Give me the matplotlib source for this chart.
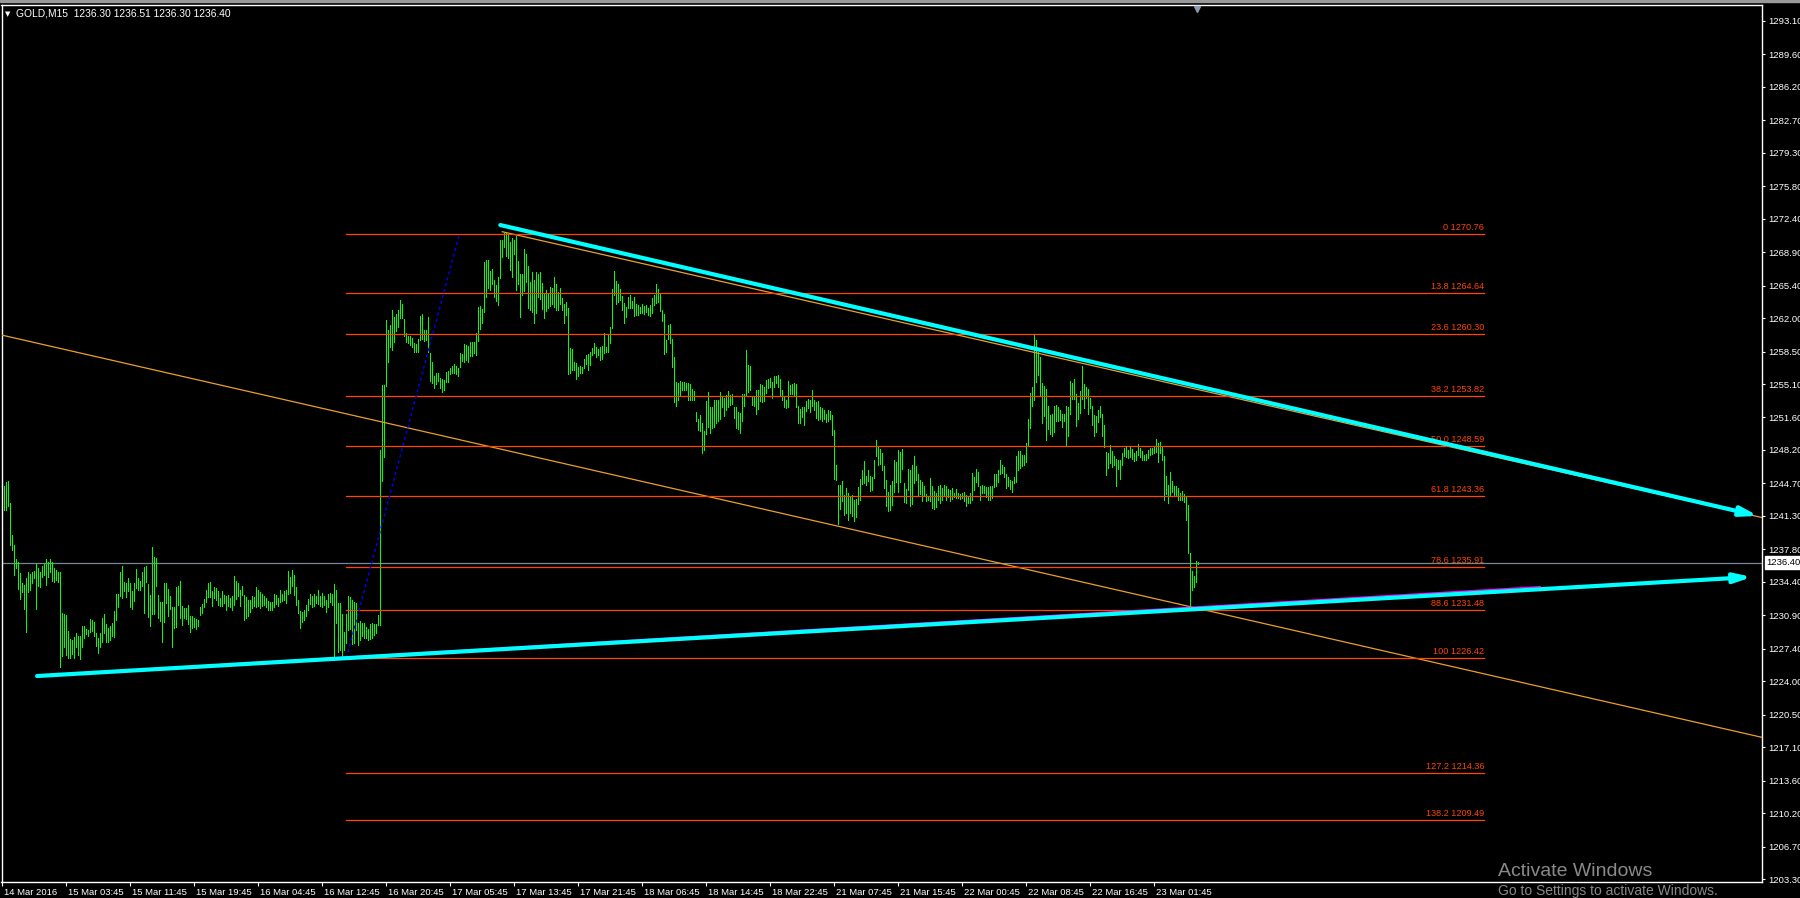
import matplotlib
matplotlib.use("Agg")
import matplotlib.pyplot as plt
import matplotlib.transforms as mtransforms
from matplotlib.patches import FancyArrowPatch, Rectangle
import numpy as np

plt.rcParams['font.family'] = ['Liberation Sans', 'DejaVu Sans']

# ---------------- data ----------------
symbol_text = "GOLD,M15"
last_ohlc = ["1236.30", "1236.51", "1236.30", "1236.40"]
current_price = 1236.40

bar_high = [
    1244.5, 1244.4, 1244.8, 1245.0, 1242.6, 1239.3, 1238.3, 1236.8, 1236.5, 1235.3,
    1234.3, 1234.1, 1234.8, 1235.4, 1235.2, 1235.4, 1235.5, 1236.3, 1235.8, 1235.4,
    1236.1, 1236.3, 1236.8, 1236.5, 1236.8, 1236.5, 1235.9, 1235.6, 1235.4, 1235.4,
    1231.1, 1231.0, 1230.9, 1229.3, 1228.4, 1228.3, 1228.6, 1229.0, 1228.7, 1228.7,
    1229.8, 1229.8, 1229.5, 1229.4, 1230.5, 1230.4, 1230.2, 1229.0, 1228.5, 1229.1,
    1230.6, 1231.0, 1230.0, 1229.6, 1229.8, 1230.1, 1231.4, 1233.1, 1233.1, 1235.4,
    1236.1, 1234.4, 1234.3, 1234.8, 1234.3, 1233.4, 1234.3, 1235.7, 1234.8, 1234.5,
    1235.4, 1236.0, 1236.1, 1234.2, 1233.0, 1238.0, 1237.0, 1236.9, 1233.0, 1232.3,
    1232.3, 1234.3, 1234.3, 1233.7, 1232.9, 1231.8, 1231.8, 1233.9, 1234.0, 1234.5,
    1231.9, 1231.7, 1231.7, 1232.0, 1230.8, 1230.8, 1230.6, 1230.5, 1230.4, 1231.8,
    1232.1, 1232.6, 1233.5, 1234.3, 1234.4, 1233.4, 1233.9, 1233.8, 1233.4, 1232.7,
    1233.4, 1233.0, 1232.9, 1233.0, 1232.7, 1232.9, 1235.0, 1234.5, 1234.3, 1233.6,
    1234.0, 1233.0, 1232.8, 1232.5, 1232.5, 1232.9, 1232.8, 1233.9, 1233.6, 1233.3,
    1233.1, 1232.9, 1232.7, 1232.4, 1232.3, 1232.3, 1233.1, 1233.0, 1232.7, 1233.6,
    1233.1, 1233.4, 1233.6, 1235.5, 1234.9, 1235.6, 1235.1, 1233.9, 1232.5, 1231.4,
    1231.3, 1231.5, 1232.0, 1232.6, 1233.1, 1232.9, 1233.1, 1232.9, 1233.5, 1232.9,
    1233.2, 1232.9, 1232.5, 1233.1, 1233.2, 1233.1, 1234.2, 1233.6, 1232.2, 1232.2,
    1231.0, 1229.2, 1231.0, 1232.9, 1232.8, 1232.5, 1232.3, 1232.2, 1230.1, 1230.3,
    1230.1, 1230.1, 1229.7, 1229.5, 1230.0, 1230.1, 1230.0, 1230.0, 1230.9, 1248.2,
    1255.0, 1255.0, 1261.8, 1260.7, 1261.3, 1262.8, 1262.1, 1262.4, 1262.8, 1263.9,
    1263.5, 1261.9, 1260.4, 1260.1, 1260.1, 1259.9, 1259.4, 1259.3, 1259.8, 1262.2,
    1262.4, 1260.8, 1260.7, 1262.1, 1258.3, 1257.4, 1255.9, 1256.2, 1256.3, 1255.7,
    1255.6, 1255.5, 1256.4, 1256.5, 1256.8, 1257.0, 1257.2, 1257.0, 1256.8, 1258.3,
    1258.2, 1259.3, 1259.2, 1259.1, 1259.5, 1259.5, 1259.5, 1260.4, 1263.2, 1263.3,
    1262.9, 1267.9, 1268.1, 1268.1, 1266.9, 1267.1, 1266.0, 1265.5, 1266.3, 1270.2,
    1270.2, 1270.9, 1270.9, 1270.7, 1270.0, 1270.4, 1270.2, 1270.6, 1268.0, 1266.6,
    1266.6, 1269.2, 1268.7, 1267.4, 1265.8, 1266.8, 1266.0, 1266.8, 1266.6, 1266.8,
    1265.7, 1264.6, 1264.9, 1264.5, 1265.2, 1265.1, 1266.3, 1265.6, 1264.7, 1265.1,
    1264.1, 1263.5, 1263.7, 1263.1, 1258.9, 1258.8, 1257.4, 1257.3, 1256.9, 1257.0,
    1256.9, 1257.7, 1258.1, 1258.2, 1258.5, 1258.9, 1259.4, 1259.0, 1258.8, 1259.0,
    1259.1, 1260.4, 1259.0, 1260.2, 1261.1, 1265.0, 1266.9, 1265.9, 1265.6, 1265.0,
    1264.3, 1263.6, 1263.2, 1264.2, 1264.4, 1263.8, 1264.2, 1263.5, 1263.4, 1263.2,
    1263.5, 1263.3, 1263.4, 1263.1, 1263.4, 1264.1, 1264.4, 1265.6, 1265.0, 1264.6,
    1262.8, 1262.4, 1259.7, 1261.3, 1261.4, 1259.8, 1257.9, 1255.3, 1255.2, 1255.4,
    1255.3, 1255.3, 1255.2, 1255.2, 1255.1, 1254.6, 1254.4, 1252.2, 1251.4, 1251.9,
    1251.0, 1250.2, 1253.3, 1254.3, 1252.7, 1252.7, 1253.4, 1253.4, 1253.4, 1254.3,
    1253.8, 1253.6, 1253.9, 1254.4, 1254.0, 1254.1, 1252.7, 1252.7, 1252.2, 1252.1,
    1254.1, 1254.1, 1258.7, 1257.1, 1257.0, 1253.8, 1253.8, 1254.5, 1254.5, 1255.1,
    1255.0, 1254.8, 1255.5, 1255.6, 1255.7, 1255.3, 1255.9, 1255.9, 1256.0, 1255.6,
    1254.5, 1253.8, 1253.4, 1255.4, 1255.0, 1255.1, 1255.2, 1255.1, 1252.8, 1252.5,
    1252.7, 1252.7, 1253.3, 1253.5, 1253.4, 1254.5, 1253.4, 1253.2, 1253.3, 1252.7,
    1252.6, 1252.4, 1252.0, 1252.4, 1252.3, 1251.9, 1250.3, 1246.6, 1244.5, 1244.5,
    1245.0, 1243.5, 1244.2, 1243.7, 1243.3, 1243.5, 1243.0, 1243.1, 1244.3, 1245.2,
    1246.1, 1247.0, 1245.5, 1246.1, 1245.5, 1245.4, 1247.2, 1249.2, 1248.6, 1248.3,
    1247.9, 1246.5, 1245.1, 1243.8, 1244.5, 1245.0, 1247.1, 1246.9, 1248.2, 1248.0,
    1248.3, 1244.7, 1244.1, 1246.2, 1246.1, 1246.6, 1247.6, 1246.5, 1245.7, 1245.1,
    1244.9, 1244.4, 1243.6, 1243.4, 1245.3, 1244.4, 1243.9, 1243.7, 1244.4, 1244.5,
    1244.2, 1244.5, 1244.4, 1244.1, 1244.0, 1244.2, 1243.7, 1244.1, 1243.7, 1243.6,
    1243.7, 1243.8, 1243.5, 1243.4, 1243.7, 1245.8, 1245.4, 1246.2, 1245.9, 1244.4,
    1244.5, 1244.4, 1244.3, 1244.3, 1244.4, 1244.4, 1245.7, 1245.7, 1246.1, 1247.1,
    1246.6, 1246.4, 1245.7, 1245.4, 1245.1, 1245.0, 1245.4, 1247.6, 1248.1, 1248.1,
    1247.7, 1247.7, 1248.9, 1251.4, 1254.2, 1254.8, 1260.2, 1259.7, 1258.4, 1257.9,
    1255.2, 1254.9, 1254.6, 1252.8, 1251.9, 1252.0, 1252.8, 1252.9, 1252.7, 1252.4,
    1252.0, 1252.0, 1252.8, 1252.7, 1255.4, 1255.2, 1255.6, 1254.1, 1253.1, 1254.4,
    1257.0, 1255.1, 1254.8, 1254.6, 1253.6, 1252.8, 1251.9, 1251.8, 1252.4, 1252.8,
    1252.0, 1250.8, 1248.0, 1247.9, 1248.7, 1248.1, 1247.6, 1247.3, 1247.1, 1247.2,
    1247.9, 1248.4, 1248.5, 1248.2, 1248.5, 1248.3, 1247.9, 1248.1, 1248.8, 1248.4,
    1248.1, 1247.7, 1247.8, 1248.2, 1248.4, 1248.4, 1248.5, 1249.3, 1248.9, 1249.0,
    1248.5, 1247.6, 1245.5, 1244.5, 1245.9, 1245.0, 1244.4, 1244.4, 1244.2, 1243.7,
    1243.9, 1243.6, 1243.4, 1242.4, 1237.4, 1235.5, 1235.0, 1236.6, 1236.51,
]

bar_low = [
    1242.8, 1241.9, 1241.9, 1242.3, 1238.3, 1237.7, 1235.1, 1235.8, 1233.7, 1232.6,
    1233.3, 1231.6, 1229.2, 1233.3, 1233.6, 1234.3, 1234.8, 1231.6, 1234.0, 1233.9,
    1234.9, 1235.1, 1234.1, 1234.9, 1235.4, 1234.5, 1234.4, 1234.6, 1234.4, 1225.5,
    1226.6, 1227.6, 1226.7, 1226.4, 1226.4, 1226.9, 1226.4, 1227.6, 1226.7, 1226.3,
    1227.6, 1228.5, 1228.9, 1228.7, 1229.2, 1229.3, 1228.7, 1227.7, 1227.0, 1227.6,
    1228.1, 1229.0, 1228.1, 1228.1, 1228.3, 1228.7, 1228.6, 1230.4, 1231.8, 1232.9,
    1232.7, 1233.4, 1232.8, 1233.4, 1231.8, 1231.6, 1232.4, 1233.8, 1233.6, 1233.5,
    1234.0, 1231.1, 1234.4, 1230.7, 1229.8, 1231.0, 1231.0, 1234.0, 1230.6, 1230.3,
    1228.1, 1230.2, 1232.2, 1230.8, 1231.6, 1227.6, 1229.6, 1229.7, 1232.0, 1230.6,
    1229.9, 1230.6, 1230.5, 1230.0, 1229.2, 1229.6, 1229.7, 1229.5, 1229.8, 1230.9,
    1231.1, 1231.8, 1232.3, 1232.8, 1232.8, 1231.9, 1232.7, 1232.5, 1232.0, 1231.9,
    1231.9, 1232.2, 1231.5, 1231.9, 1231.8, 1231.5, 1232.0, 1232.6, 1232.9, 1231.9,
    1233.0, 1230.4, 1230.6, 1230.8, 1231.3, 1231.7, 1231.9, 1231.8, 1231.9, 1231.7,
    1231.9, 1232.0, 1231.8, 1231.5, 1231.5, 1231.5, 1231.8, 1232.1, 1231.9, 1232.3,
    1232.4, 1232.5, 1232.2, 1233.1, 1233.2, 1234.0, 1233.0, 1232.0, 1231.1, 1229.6,
    1230.2, 1230.4, 1230.8, 1231.5, 1232.1, 1231.8, 1231.9, 1232.2, 1232.1, 1231.9,
    1231.8, 1232.0, 1231.3, 1231.8, 1232.3, 1232.0, 1226.6, 1230.1, 1227.1, 1227.3,
    1226.5, 1227.3, 1228.0, 1229.4, 1229.5, 1227.9, 1228.0, 1229.4, 1227.8, 1228.3,
    1228.7, 1228.5, 1228.5, 1228.3, 1228.4, 1228.5, 1228.8, 1229.0, 1229.9, 1229.9,
    1245.0, 1247.5, 1254.9, 1257.4, 1259.0, 1258.7, 1259.5, 1260.6, 1261.1, 1262.0,
    1262.0, 1260.1, 1259.5, 1259.4, 1259.2, 1259.0, 1258.4, 1258.5, 1258.4, 1259.7,
    1259.8, 1259.6, 1259.7, 1258.5, 1255.4, 1255.2, 1254.7, 1255.1, 1255.4, 1254.7,
    1254.3, 1254.5, 1255.3, 1255.3, 1256.1, 1256.2, 1256.3, 1256.1, 1255.9, 1256.9,
    1257.5, 1257.4, 1257.6, 1257.4, 1258.0, 1258.0, 1258.3, 1258.1, 1259.6, 1260.9,
    1261.5, 1262.6, 1264.2, 1265.1, 1264.9, 1265.6, 1264.2, 1263.8, 1263.4, 1266.2,
    1268.4, 1269.4, 1268.5, 1268.3, 1267.0, 1266.3, 1268.7, 1264.9, 1265.6, 1262.1,
    1264.4, 1264.8, 1265.8, 1263.0, 1262.8, 1262.6, 1261.5, 1262.5, 1264.2, 1264.0,
    1262.9, 1262.0, 1262.7, 1263.0, 1263.3, 1263.5, 1263.2, 1262.8, 1262.8, 1263.5,
    1262.8, 1261.5, 1262.3, 1256.1, 1256.2, 1256.6, 1256.6, 1255.6, 1255.9, 1256.2,
    1256.3, 1256.8, 1257.2, 1256.6, 1257.1, 1258.1, 1258.3, 1257.9, 1258.1, 1257.6,
    1257.7, 1258.3, 1258.5, 1258.4, 1259.4, 1261.0, 1264.4, 1263.5, 1263.7, 1263.9,
    1262.8, 1261.5, 1262.1, 1263.0, 1263.1, 1263.1, 1262.2, 1262.3, 1262.3, 1262.5,
    1262.5, 1262.4, 1262.6, 1262.3, 1262.2, 1262.5, 1263.4, 1263.6, 1263.7, 1262.7,
    1261.7, 1258.2, 1258.4, 1259.8, 1259.4, 1256.9, 1253.2, 1252.8, 1253.4, 1254.0,
    1254.5, 1254.5, 1254.5, 1253.4, 1253.4, 1253.4, 1253.4, 1251.2, 1250.3, 1250.2,
    1247.9, 1248.2, 1249.9, 1250.6, 1250.0, 1250.5, 1250.6, 1251.0, 1251.2, 1251.4,
    1252.7, 1251.8, 1252.4, 1252.7, 1252.9, 1253.0, 1251.5, 1250.5, 1250.4, 1250.0,
    1251.2, 1252.8, 1253.8, 1254.3, 1254.5, 1252.9, 1252.8, 1252.0, 1252.5, 1253.3,
    1253.2, 1253.3, 1254.2, 1254.7, 1254.8, 1253.6, 1254.8, 1255.2, 1254.8, 1253.9,
    1253.4, 1252.7, 1252.6, 1252.7, 1254.1, 1254.1, 1253.8, 1252.7, 1251.0, 1251.0,
    1251.7, 1250.8, 1252.3, 1252.6, 1252.2, 1252.8, 1252.4, 1251.5, 1251.3, 1251.4,
    1251.2, 1251.4, 1251.1, 1251.2, 1251.4, 1249.8, 1245.2, 1245.1, 1240.5, 1242.0,
    1242.9, 1241.4, 1241.6, 1240.9, 1241.6, 1241.3, 1240.8, 1241.2, 1242.5, 1243.0,
    1244.6, 1244.7, 1244.5, 1245.0, 1243.9, 1244.0, 1245.3, 1247.6, 1246.6, 1246.7,
    1246.1, 1244.2, 1242.3, 1241.8, 1241.9, 1242.4, 1243.8, 1244.8, 1243.8, 1244.9,
    1246.2, 1242.8, 1242.6, 1244.0, 1242.3, 1242.5, 1244.7, 1245.1, 1243.5, 1243.6,
    1242.9, 1243.4, 1242.9, 1243.0, 1242.9, 1242.1, 1242.0, 1242.2, 1243.0, 1242.7,
    1243.0, 1243.4, 1243.0, 1243.3, 1242.9, 1243.1, 1243.3, 1243.2, 1243.2, 1243.1,
    1243.2, 1242.9, 1242.3, 1242.7, 1242.6, 1243.0, 1244.0, 1244.9, 1244.4, 1243.0,
    1243.7, 1243.7, 1243.3, 1243.0, 1243.0, 1243.2, 1244.3, 1244.4, 1244.9, 1245.7,
    1245.8, 1245.4, 1244.2, 1244.4, 1244.1, 1243.8, 1244.7, 1244.8, 1246.1, 1246.3,
    1246.5, 1246.6, 1246.9, 1248.7, 1250.5, 1252.8, 1253.4, 1255.3, 1256.0, 1253.8,
    1251.0, 1251.8, 1249.2, 1250.4, 1249.9, 1249.7, 1250.1, 1251.2, 1251.2, 1251.3,
    1250.6, 1251.2, 1248.6, 1249.7, 1252.0, 1253.5, 1253.5, 1250.7, 1251.4, 1252.1,
    1253.5, 1252.6, 1253.6, 1252.0, 1252.6, 1250.8, 1249.7, 1250.1, 1251.1, 1251.7,
    1249.7, 1248.5, 1245.6, 1246.3, 1246.8, 1246.4, 1246.6, 1244.4, 1246.2, 1245.2,
    1246.6, 1247.6, 1247.5, 1247.4, 1247.5, 1247.3, 1247.0, 1247.1, 1247.7, 1247.5,
    1247.1, 1247.1, 1247.2, 1247.4, 1247.7, 1247.8, 1247.9, 1248.0, 1246.9, 1247.9,
    1247.1, 1243.0, 1243.6, 1242.7, 1243.4, 1243.8, 1243.5, 1243.4, 1243.0, 1243.0,
    1243.0, 1242.8, 1240.9, 1237.4, 1231.7, 1233.5, 1233.9, 1234.4, 1236.30,
]

time_tick_bars = [0, 32, 64, 96, 128, 160, 192, 224, 256, 288, 320, 352, 384,
                  416, 448, 480, 512, 544, 576]
time_tick_labels = ["14 Mar 2016", "15 Mar 03:45", "15 Mar 11:45", "15 Mar 19:45",
                    "16 Mar 04:45", "16 Mar 12:45", "16 Mar 20:45", "17 Mar 05:45",
                    "17 Mar 13:45", "17 Mar 21:45", "18 Mar 06:45", "18 Mar 14:45",
                    "18 Mar 22:45", "21 Mar 07:45", "21 Mar 15:45", "22 Mar 00:45",
                    "22 Mar 08:45", "22 Mar 16:45", "23 Mar 01:45"]

price_ticks = [1293.10, 1289.60, 1286.20, 1282.70, 1279.30, 1275.80, 1272.40,
               1268.90, 1265.40, 1262.00, 1258.50, 1255.10, 1251.60, 1248.20,
               1244.70, 1241.30, 1237.80, 1234.40, 1230.90, 1227.40, 1224.00,
               1220.50, 1217.10, 1213.60, 1210.20, 1206.70, 1203.30]

fib_level_labels = ["0", "13.8", "23.6", "38.2", "50.0", "61.8", "78.6", "88.6",
                    "100", "127.2", "138.2"]
fib_prices = [1270.76, 1264.64, 1260.30, 1253.82, 1248.59, 1243.36, 1235.91,
              1231.48, 1226.42, 1214.36, 1209.49]
fib_span_bars = [172, 741]
fib_trend_bars = [172, 228.5]
fib_trend_prices = [1226.42, 1270.76]

channel_low_bars = [-1.15, 879.7]
channel_low_prices = [1260.26, 1218.14]
channel_up_bars = [250, 879.85]
channel_up_prices = [1271.03, 1241.13]

upper_arrow_bars = [249, 877.9]
upper_arrow_prices = [1271.73, 1241.30]
lower_arrow_bars = [17.4, 874.8]
lower_arrow_prices = [1224.55, 1234.91]
magenta_bars = [17.4, 769.0]
magenta_prices = [1224.62, 1233.90]

chart_shift_bar = 597.5

# ---------------- figure ----------------
W, H = 1800, 898
fig = plt.figure(figsize=(W / 100, H / 100), dpi=100)
fig.patch.set_facecolor("black")
ax = fig.add_axes([1.5 / W, (H - 882.3) / H, (1762 - 1.5) / W, (882.3 - 5) / H])
ax.set_facecolor("black")
ax.set_xlim(-0.4, 879.85)
ax.set_ylim(1202.97, 1294.75)
for s in ax.spines.values():
    s.set_color("white")
    s.set_linewidth(1.0)

idx = np.arange(len(bar_high))
ax.vlines(idx, bar_low, bar_high, colors="#00FF00", linewidth=0.6,
          antialiased=False, zorder=2)

# current price line
ax.axhline(current_price, color="#778899", linewidth=0.9, zorder=1)

# channel (orange)
orange = "#E9A12B"
ax.plot(channel_low_bars, channel_low_prices, color=orange, lw=0.9, zorder=3)
ax.plot(channel_up_bars, channel_up_prices, color=orange, lw=0.9, zorder=3)

# fibonacci
fib_color = "#FF4500"
for lab, p in zip(fib_level_labels, fib_prices):
    ax.plot(fib_span_bars, [p, p], color=fib_color, lw=0.9, zorder=3)
    ax.annotate(f"{lab} {p:.2f}", xy=(fib_span_bars[1], p), xytext=(0, 1.5),
                textcoords="offset points", ha="right", va="bottom",
                color=fib_color, fontsize=6.6, zorder=4)
ax.plot(fib_trend_bars, fib_trend_prices, color="#0000FF", lw=1.0,
        linestyle=(0, (2.2, 2.2)), zorder=3)

# magenta line under lower cyan
ax.plot(magenta_bars, magenta_prices, color="#FF00FF", lw=1.0, zorder=4)

# cyan arrows
for bx, py in ((upper_arrow_bars, upper_arrow_prices),
               (lower_arrow_bars, lower_arrow_prices)):
    arr = FancyArrowPatch((bx[0], py[0]), (bx[1], py[1]),
                          arrowstyle="-|>,head_length=1.0,head_width=0.28",
                          mutation_scale=10, color="#00FFFF", lw=3.0,
                          shrinkA=0, shrinkB=0, zorder=5)
    ax.add_patch(arr)

# axes ticks
ax.yaxis.tick_right()
ax.set_yticks(price_ticks)
ax.set_yticklabels([f"{v:.2f}" for v in price_ticks])
ax.tick_params(axis="y", direction="out", length=2.5, width=0.8, colors="white",
               labelsize=6.8, pad=2)
ax.set_xticks(time_tick_bars)
ax.set_xticklabels(time_tick_labels, ha="left")
ax.tick_params(axis="x", direction="out", length=3, width=0.8, colors="white",
               labelsize=6.8, pad=1)
off = mtransforms.ScaledTranslation(0.02, 0, fig.dpi_scale_trans)
for lab in ax.get_xticklabels():
    lab.set_transform(lab.get_transform() + off)

# current price box on the scale
bt = mtransforms.blended_transform_factory(ax.transAxes, ax.transData)
ax.text(1 + 4.5 / 1760.5, current_price, f"{current_price:.2f}", transform=bt,
        ha="left", va="center", color="black", fontsize=6.8, clip_on=False,
        zorder=10, bbox=dict(boxstyle="square,pad=0.2", fc="white", ec="white"))

# chart shift marker
bt2 = mtransforms.blended_transform_factory(ax.transData, ax.transAxes)
ax.plot([chart_shift_bar], [1 - 3.5 / 877.3], marker="v", markersize=5,
        color="#8C9BB0", transform=bt2, clip_on=False, zorder=10)

# header
fig.text(5 / W, 1 - 14 / H, "\u25BC", color="white", fontsize=5,
         family="DejaVu Sans", va="center", ha="left")
fig.text(16 / W, 1 - 14 / H,
         f"{symbol_text}  " + " ".join(last_ohlc),
         color="white", fontsize=7.4, va="center", ha="left")

# top window border
fig.add_artist(Rectangle((0, 1 - 2 / H), 1, 2 / H, transform=fig.transFigure,
                         color="#9A9A9A", zorder=0))

# windows watermark
fig.text(1498 / W, 1 - 871 / H, "Activate Windows", color="#8A8A8A",
         fontsize=14, va="center", ha="left")
fig.text(1498 / W, 1 - 891 / H, "Go to Settings to activate Windows.",
         color="#8A8A8A", fontsize=10, va="center", ha="left")

fig.savefig("out.png", dpi=100, facecolor="black")
